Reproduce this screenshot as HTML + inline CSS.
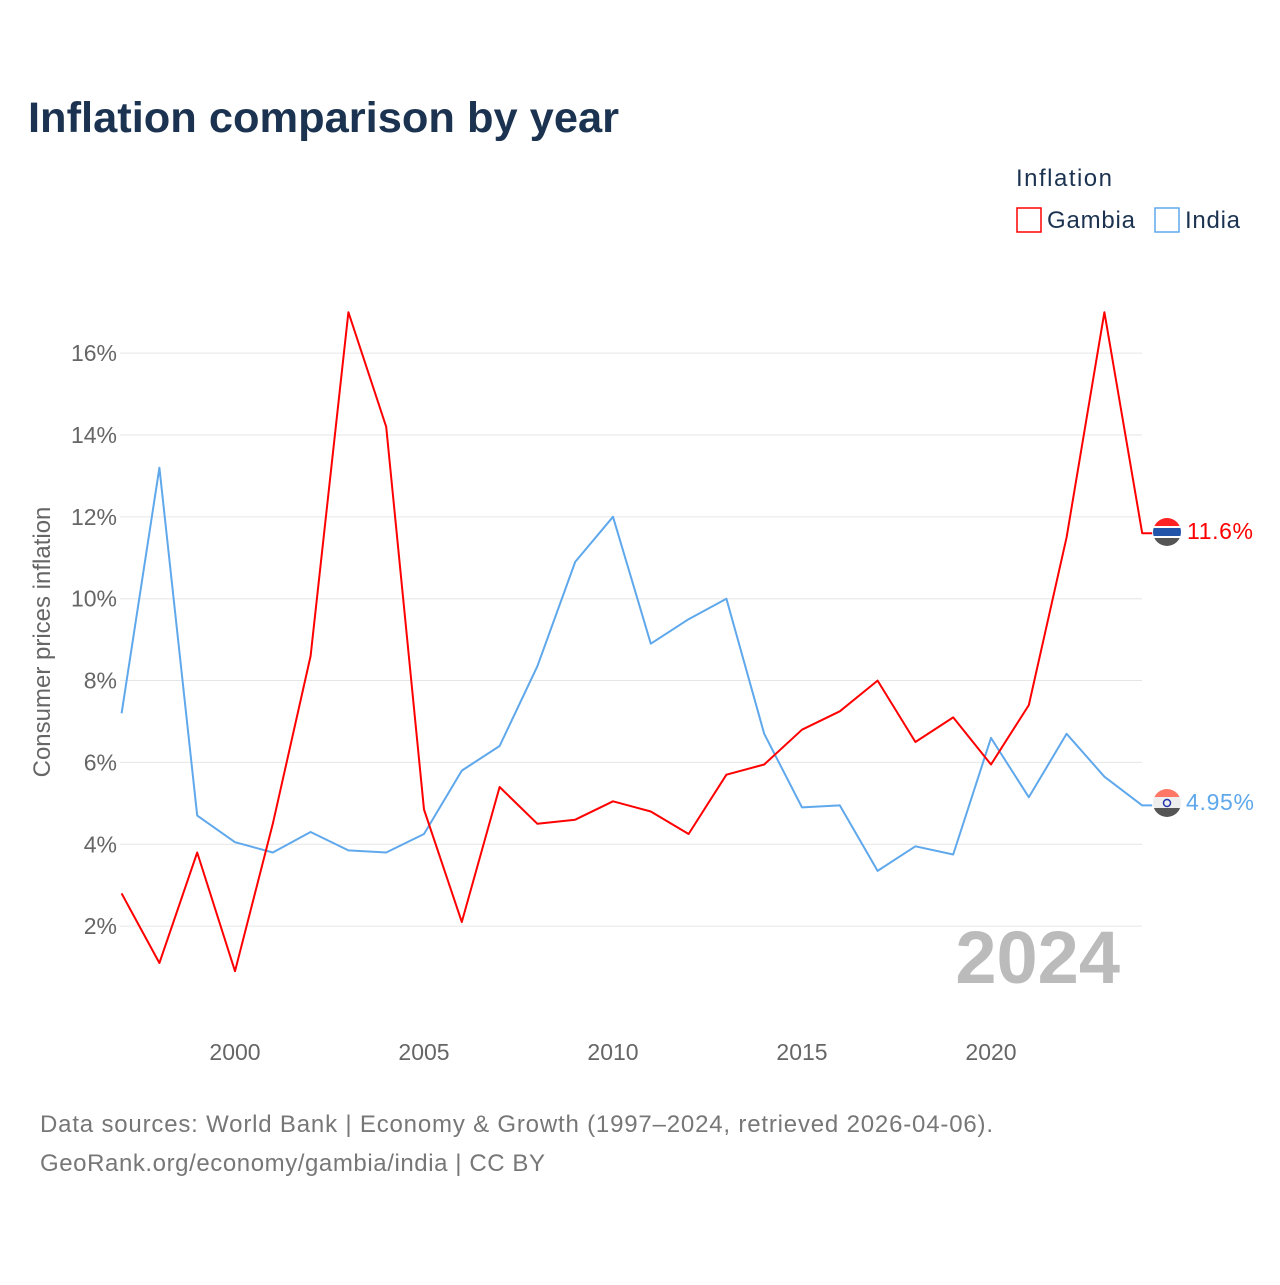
<!DOCTYPE html>
<html><head><meta charset="utf-8"><style>
body{margin:0;background:#fff;font-family:"Liberation Sans",sans-serif;}
svg text{font-family:"Liberation Sans",sans-serif;}
</style></head><body>
<svg width="1280" height="1280" viewBox="0 0 1280 1280">
<text x="28" y="132" font-size="43" font-weight="bold" fill="#1b3350" textLength="591" lengthAdjust="spacingAndGlyphs">Inflation comparison by year</text>
<text x="1016" y="186" font-size="24" fill="#1b3350" textLength="96">Inflation</text>
<g><rect x="1017" y="208" width="24" height="24" fill="none" stroke="#f00" stroke-width="1.5"/><text x="1047" y="228" font-size="24" fill="#1b3350" textLength="88">Gambia</text></g>
<g><rect x="1155" y="208" width="24" height="24" fill="none" stroke="#5fa8ec" stroke-width="1.5"/><text x="1185" y="228" font-size="24" fill="#1b3350" textLength="55">India</text></g>
<g id="grid"></g>
<g id="yt"></g>
<g id="xt"></g>
<text transform="translate(50,642) rotate(-90)" text-anchor="middle" font-size="24" fill="#666">Consumer prices inflation</text>
<text x="1120" y="983" text-anchor="end" font-size="74" font-weight="bold" fill="#bbb">2024</text>
<g id="lines"></g>
<g><clipPath id="c1"><circle cx="1167" cy="532" r="14"/></clipPath><g clip-path="url(#c1)"><rect x="1150" y="515" width="34" height="11" fill="#f22"/><rect x="1150" y="526" width="34" height="2" fill="#fff"/><rect x="1150" y="528" width="34" height="8" fill="#2255aa"/><rect x="1150" y="536" width="34" height="2" fill="#fff"/><rect x="1150" y="538" width="34" height="12" fill="#555"/></g></g>
<text x="1187" y="539" font-size="23" fill="#f00" textLength="66">11.6%</text>
<g><clipPath id="c2"><circle cx="1167" cy="803" r="14"/></clipPath><g clip-path="url(#c2)"><rect x="1150" y="786" width="34" height="11" fill="#f76"/><rect x="1150" y="797" width="34" height="11" fill="#eee"/><rect x="1150" y="808" width="34" height="12" fill="#555"/><circle cx="1167" cy="803" r="3.5" fill="none" stroke="#23a" stroke-width="1.5"/></g></g>
<text x="1186" y="810" font-size="23" fill="#5fa8ec" textLength="68">4.95%</text>
<text x="40" y="1132" font-size="24" fill="#777" textLength="953">Data sources: World Bank | Economy &amp; Growth (1997–2024, retrieved 2026-04-06).</text>
<text x="40" y="1171" font-size="24" fill="#777" textLength="505">GeoRank.org/economy/gambia/india | CC BY</text>
</svg>
<script>
const years=[1997,1998,1999,2000,2001,2002,2003,2004,2005,2006,2007,2008,2009,2010,2011,2012,2013,2014,2015,2016,2017,2018,2019,2020,2021,2022,2023,2024];
const gambia=[2.8,1.1,3.8,0.9,4.5,8.6,17.0,14.2,4.85,2.1,5.4,4.5,4.6,5.05,4.8,4.25,5.7,5.95,6.8,7.25,8.0,6.5,7.1,5.95,7.4,11.5,17.0,11.6];
const india=[7.2,13.2,4.7,4.05,3.8,4.3,3.85,3.8,4.25,5.8,6.4,8.35,10.9,12.0,8.9,9.5,10.0,6.7,4.9,4.95,3.35,3.95,3.75,6.6,5.15,6.7,5.65,4.95];
const yTicks=[2,4,6,8,10,12,14,16];
const xTicks=[2000,2005,2010,2015,2020];
const NS="http://www.w3.org/2000/svg";
const X=y=>121.6+(y-1997)*37.8;
const Y=v=>1008-v*40.93;
const grid=document.getElementById('grid'),yt=document.getElementById('yt'),xt=document.getElementById('xt'),lines=document.getElementById('lines');
yTicks.forEach(t=>{
 const l=document.createElementNS(NS,'line');
 l.setAttribute('x1',120);l.setAttribute('x2',1142);l.setAttribute('y1',Y(t));l.setAttribute('y2',Y(t));
 l.setAttribute('stroke','#e6e6e6');l.setAttribute('stroke-width',1);
 
 
 grid.appendChild(l);
 const tx=document.createElementNS(NS,'text');
 tx.setAttribute('x',117);tx.setAttribute('y',Y(t)+8);tx.setAttribute('text-anchor','end');
 tx.setAttribute('font-size','23');tx.setAttribute('fill','#666');tx.textContent=t+'%';
 
 
 yt.appendChild(tx);
});
xTicks.forEach(t=>{
 const tx=document.createElementNS(NS,'text');
 tx.setAttribute('x',X(t));tx.setAttribute('y',1060);tx.setAttribute('text-anchor','middle');
 tx.setAttribute('font-size','23');tx.setAttribute('fill','#666');tx.textContent=t;
 
 
 xt.appendChild(tx);
});
function drawLine(vals,color,name){
 let d=vals.map((v,i)=>(i?'L':'M')+X(years[i]).toFixed(1)+','+Y(v).toFixed(1)).join(' ');
 d+=' L'+(X(years[years.length-1])+10)+','+Y(vals[vals.length-1]).toFixed(1);
 const p=document.createElementNS(NS,'path');
 p.setAttribute('d',d);p.setAttribute('fill','none');p.setAttribute('stroke',color);p.setAttribute('stroke-width',2);
 p.setAttribute('stroke-linejoin','round');
 
 
 lines.appendChild(p);
}
drawLine(india,'#5fa8ec','line-india');
drawLine(gambia,'#f00','line-gambia');
</script>
</body></html>
